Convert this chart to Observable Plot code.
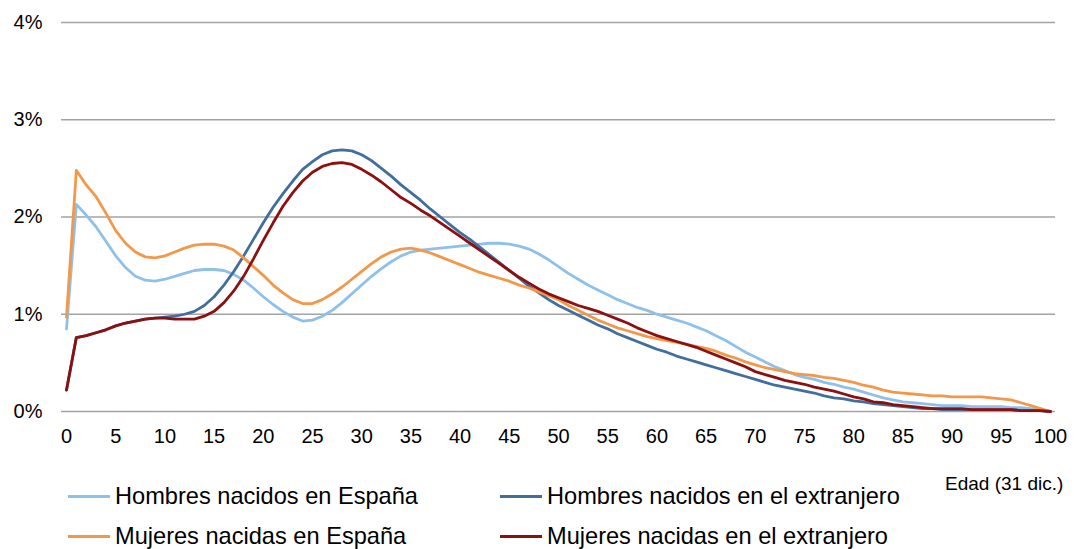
<!DOCTYPE html>
<html>
<head>
<meta charset="utf-8">
<script src="https://cdn.jsdelivr.net/npm/d3@7"></script>
<script src="https://cdn.jsdelivr.net/npm/@observablehq/plot@0.6"></script>
<style>
  html, body { margin: 0; padding: 0; background: #fff; }
  #wrap { position: relative; width: 1074px; height: 549px; font-family: "Liberation Sans", Arial, sans-serif; color: #000; }
  .leg { position: absolute; display: flex; align-items: center; height: 28px; font-size: 23.6px; white-space: nowrap; }
  .sw { width: 42px; height: 3px; margin-right: 5px; }
  #xlab { position: absolute; left: 945px; top: 473px; font-size: 19px; white-space: nowrap; line-height: 22px; }
</style>
</head>
<body>
<div id="wrap"></div>
<script>
const ages = d3.range(0, 101);
const xTicks = [0,5,10,15,20,25,30,35,40,45,50,55,60,65,70,75,80,85,90,95,100];
const yTicks = [0,1,2,3,4];
const series = [
  "Hombres nacidos en España",
  "Hombres nacidos en el extranjero",
  "Mujeres nacidas en España",
  "Mujeres nacidas en el extranjero"
];
const colors = ["#8fc0e9", "#426e9c", "#f2984a", "#8c1010"];
const xLabel = "Edad (31 dic.)";

const hombresEspana = [0.85,2.13,2.02,1.90,1.75,1.60,1.48,1.39,1.35,1.34,
  1.36,1.39,1.42,1.45,1.46,1.46,1.45,1.41,1.35,1.27,
  1.18,1.10,1.03,0.97,0.93,0.94,0.98,1.04,1.12,1.21,
  1.30,1.39,1.47,1.54,1.60,1.64,1.66,1.67,1.68,1.69,
  1.70,1.71,1.72,1.73,1.73,1.72,1.70,1.67,1.62,1.56,
  1.49,1.42,1.36,1.30,1.25,1.20,1.15,1.11,1.07,1.04,
  1.00,0.97,0.94,0.91,0.87,0.83,0.78,0.73,0.67,0.61,
  0.56,0.51,0.46,0.42,0.38,0.35,0.33,0.30,0.28,0.25,
  0.23,0.20,0.17,0.14,0.12,0.10,0.09,0.08,0.07,0.06,
  0.06,0.06,0.05,0.05,0.05,0.05,0.04,0.04,0.03,0.01,
  0.00];
const hombresExtranjero = [0.22,0.76,0.78,0.81,0.84,0.88,0.91,0.93,0.95,0.96,
  0.97,0.98,1.00,1.03,1.09,1.18,1.30,1.44,1.60,1.77,
  1.94,2.10,2.24,2.37,2.49,2.57,2.64,2.68,2.69,2.68,
  2.64,2.58,2.50,2.42,2.33,2.25,2.17,2.08,2.00,1.92,
  1.84,1.77,1.69,1.61,1.53,1.45,1.37,1.29,1.22,1.15,
  1.09,1.04,0.99,0.94,0.89,0.85,0.80,0.76,0.72,0.68,
  0.64,0.61,0.57,0.54,0.51,0.48,0.45,0.42,0.39,0.36,
  0.33,0.30,0.27,0.25,0.23,0.21,0.19,0.16,0.14,0.13,
  0.11,0.10,0.08,0.07,0.06,0.05,0.04,0.03,0.03,0.02,
  0.02,0.02,0.02,0.02,0.02,0.02,0.02,0.01,0.01,0.01,
  0.00];
const mujeresEspana = [0.97,2.48,2.33,2.21,2.04,1.86,1.73,1.64,1.59,1.58,
  1.60,1.64,1.68,1.71,1.72,1.72,1.70,1.66,1.58,1.49,
  1.40,1.30,1.22,1.15,1.11,1.11,1.15,1.21,1.28,1.36,
  1.44,1.52,1.59,1.64,1.67,1.68,1.66,1.63,1.59,1.55,
  1.51,1.47,1.43,1.40,1.37,1.34,1.30,1.27,1.23,1.19,
  1.15,1.09,1.04,0.99,0.94,0.90,0.86,0.83,0.80,0.77,
  0.75,0.73,0.71,0.69,0.67,0.65,0.62,0.58,0.55,0.51,
  0.48,0.45,0.43,0.41,0.39,0.38,0.37,0.35,0.34,0.32,
  0.30,0.27,0.25,0.22,0.20,0.19,0.18,0.17,0.16,0.16,
  0.15,0.15,0.15,0.15,0.14,0.13,0.12,0.09,0.06,0.03,
  0.00];
const mujeresExtranjero = [0.22,0.76,0.78,0.81,0.84,0.88,0.91,0.93,0.95,0.96,
  0.96,0.95,0.95,0.95,0.98,1.03,1.12,1.24,1.39,1.57,
  1.76,1.94,2.11,2.25,2.37,2.46,2.52,2.55,2.56,2.54,
  2.49,2.43,2.36,2.28,2.20,2.14,2.07,2.01,1.94,1.87,
  1.80,1.73,1.66,1.59,1.52,1.45,1.38,1.32,1.26,1.21,
  1.17,1.13,1.09,1.06,1.03,0.99,0.95,0.91,0.86,0.82,
  0.78,0.75,0.72,0.69,0.66,0.62,0.58,0.54,0.50,0.46,
  0.41,0.38,0.35,0.32,0.30,0.28,0.25,0.23,0.21,0.18,
  0.15,0.13,0.10,0.09,0.07,0.06,0.05,0.04,0.03,0.03,
  0.03,0.03,0.02,0.02,0.02,0.02,0.02,0.01,0.01,0.01,
  0.00];

const values = [hombresEspana, hombresExtranjero, mujeresEspana, mujeresExtranjero];
const data = series.flatMap((s, i) => values[i].map((v, j) => ({age: ages[j], value: v, serie: s})));

const chart = Plot.plot({
  width: 1074,
  height: 470,
  marginLeft: 61,
  marginRight: 19,
  marginTop: 22,
  marginBottom: 59,
  x: {domain: [0, 100], insetLeft: 5, insetRight: 5},
  y: {domain: [0, 4]},
  color: {domain: series, range: colors},
  style: {fontFamily: "'Liberation Sans', Arial, sans-serif", fontSize: "20px", color: "#000", background: "#fff"},
  marks: [
    Plot.ruleY(yTicks, {stroke: "#a3a3a3", strokeWidth: 1.3}),
    Plot.axisY({ticks: yTicks, tickSize: 0, tickPadding: 19, tickFormat: d => d + "%", label: null, fontSize: 20}),
    Plot.axisX({ticks: xTicks, tickSize: 0, tickPadding: 17, tickFormat: d => String(d), label: null, fontSize: 20}),
    Plot.line(data, {x: "age", y: "value", z: "serie", stroke: "serie", strokeWidth: 2.8, strokeLinejoin: "round"})
  ]
});

const wrap = document.getElementById("wrap");
wrap.appendChild(chart);

const xl = document.createElement("div");
xl.id = "xlab";
xl.textContent = xLabel;
wrap.appendChild(xl);

const legendPos = [[68, 482], [500, 482], [68, 522], [500, 522]];
series.forEach((s, i) => {
  const item = document.createElement("div");
  item.className = "leg";
  item.style.left = legendPos[i][0] + "px";
  item.style.top = legendPos[i][1] + "px";
  const sw = document.createElement("span");
  sw.className = "sw";
  sw.style.background = colors[i];
  const tx = document.createElement("span");
  tx.textContent = s;
  item.appendChild(sw);
  item.appendChild(tx);
  wrap.appendChild(item);
});
</script>
</body>
</html>
